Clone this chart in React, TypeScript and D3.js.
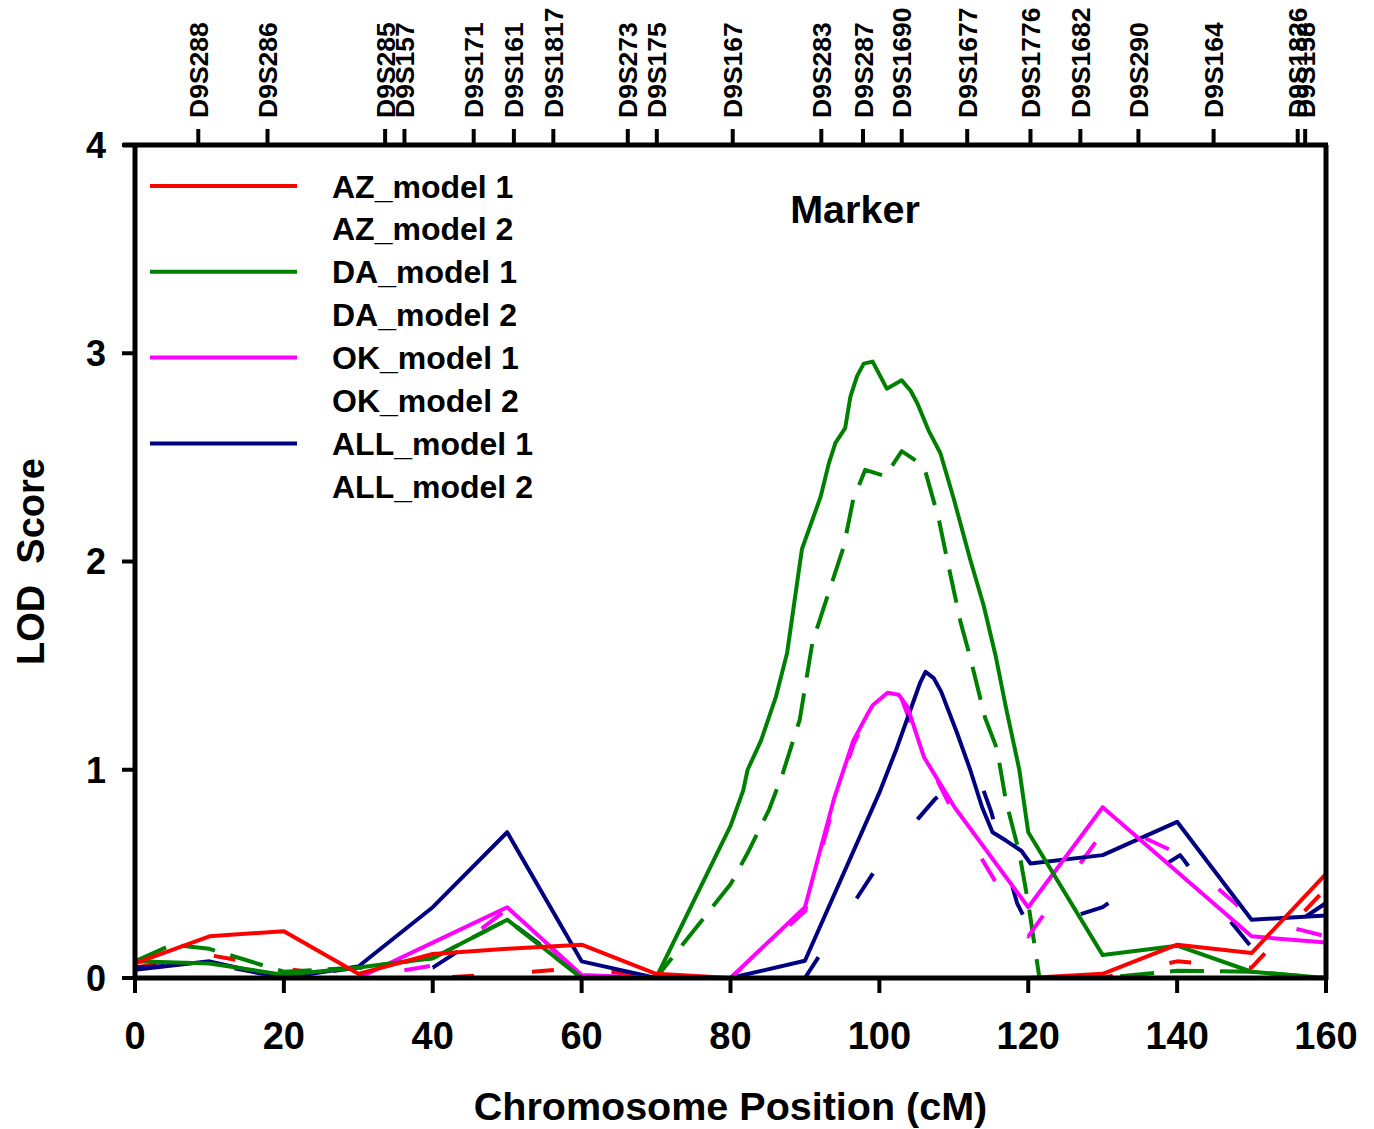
import React from "react";
import * as d3 from "d3";

const xTicks = [0, 20, 40, 60, 80, 100, 120, 140, 160];
const yTicks = [0, 1, 2, 3, 4];

const markerNames = ["D9S288","D9S286","D9S285","D9S157","D9S171","D9S161","D9S1817","D9S273","D9S175","D9S167","D9S283","D9S287","D9S1690","D9S1677","D9S1776","D9S1682","D9S290","D9S164","D9S1826","D9S158"];
const markerPos = [8.5, 17.8, 33.6, 36.2, 45.5, 50.9, 56.2, 66.2, 70.1, 80.3, 92.2, 97.8, 103.0, 111.8, 120.3, 127.0, 134.8, 144.9, 156.2, 157.2];

const AZ_model1: [number, number][] = [[0,0.07],[10,0.2],[20,0.225],[30,0.02],[40,0.115],[50,0.14],[60,0.16],[70,0.02],[80,0],[90,0],[100,0],[110,0],[120,0],[130,0.02],[140,0.16],[150,0.12],[160,0.5]];
const AZ_model2: [number, number][] = [[0,0.05],[10,0.11],[20,0.045],[30,0],[40,0],[50,0.02],[60,0.05],[70,0],[80,0],[90,0],[100,0],[110,0],[120,0],[130,0],[140,0.08],[150,0.05],[160,0.43]];
const DA_model1: [number, number][] = [[0,0.08],[10,0.07],[20,0.015],[30,0.05],[40,0.095],[50,0.28],[60,0],[70,0],[80,0.73],[81.7,0.9],[82.3,1.0],[84.1,1.14],[86.1,1.35],[87.6,1.56],[89.6,2.06],[92.1,2.31],[93.2,2.47],[94.1,2.57],[95.4,2.64],[96.1,2.79],[97.0,2.89],[97.9,2.95],[99.1,2.96],[101.0,2.83],[103.0,2.87],[104.2,2.82],[105.1,2.76],[106.6,2.63],[108.2,2.52],[110.0,2.30],[112.2,2.01],[114.0,1.79],[115.6,1.55],[117.0,1.30],[118.8,1.0],[120,0.70],[130,0.11],[140,0.155],[150,0.03],[160,0]];
const DA_model2: [number, number][] = [[0,0.08],[5,0.16],[10,0.14],[20,0.03],[30,0.05],[40,0.095],[50,0.28],[60,0],[70,0],[80,0.45],[82.3,0.6],[85.2,0.81],[87,0.98],[89.3,1.24],[91,1.61],[93,1.83],[95.2,2.07],[96.5,2.3],[97.2,2.36],[98.1,2.44],[100.8,2.41],[103,2.53],[105.5,2.47],[106.2,2.43],[108,2.2],[109.1,2.01],[110.9,1.71],[112.2,1.54],[114.2,1.25],[115.8,1.1],[117,0.85],[118.8,0.6],[120,0.36],[121.5,0],[130,0],[140,0.035],[150,0.03],[160,0]];
const OK_model1: [number, number][] = [[0,0],[10,0],[20,0],[30,0],[40,0.17],[50,0.34],[60,0.015],[70,0],[80,0],[90,0.34],[93.9,0.86],[96.5,1.14],[98.3,1.26],[99.1,1.31],[101.1,1.37],[102.6,1.36],[103.8,1.30],[104.9,1.18],[106.0,1.06],[107.2,0.99],[110.1,0.82],[120,0.34],[130,0.82],[140,0.51],[150,0.2],[160,0.17]];
const OK_model2: [number, number][] = [[0,0],[10,0],[20,0],[30,0],[40,0.06],[50,0.33],[60,0.01],[70,0],[80,0],[90,0.32],[94,0.85],[96.5,1.12],[98.5,1.27],[101,1.36],[103,1.34],[105,1.15],[107.5,0.97],[109.6,0.82],[120,0.2],[131,0.75],[140,0.6],[150,0.29],[160,0.2]];
const ALL_model1: [number, number][] = [[0,0.04],[10,0.08],[20,0],[30,0.055],[40,0.34],[50,0.70],[60,0.08],[70,0],[80,0],[90,0.083],[100,0.89],[102.3,1.1],[104.3,1.30],[105.5,1.42],[106.2,1.47],[107.3,1.44],[108.3,1.375],[110.4,1.18],[112.2,1.0],[113.8,0.82],[115.2,0.70],[117.0,0.66],[119.1,0.61],[120.3,0.55],[130,0.59],[140,0.75],[150,0.28],[160,0.30]];
const ALL_model2: [number, number][] = [[0,0.05],[10,0.07],[20,0],[30,0.05],[40,0.05],[50,0.28],[60,0.01],[70,0],[80,0],[90,0],[100,0.55],[107.5,0.86],[110.5,0.95],[113,1.0],[115,0.8],[118.5,0.36],[120.3,0.23],[130,0.34],[136,0.49],[140.4,0.59],[147,0.28],[150.4,0.13],[160,0.36]];

const legendNames = ["AZ_model 1","AZ_model 2","DA_model 1","DA_model 2","OK_model 1","OK_model 2","ALL_model 1","ALL_model 2"];
const legendColors = ["#ff0000", null, "#008000", null, "#ff00ff", null, "#000080", null];

const seriesData = [
  { data: AZ_model2, color: "#ff0000", dash: "22,58" },
  { data: DA_model2, color: "#008000", dash: "34,16" },
  { data: OK_model2, color: "#ff00ff", dash: "26,64" },
  { data: ALL_model2, color: "#000080", dash: "30,70" },
  { data: ALL_model1, color: "#000080", dash: null },
  { data: OK_model1, color: "#ff00ff", dash: null },
  { data: DA_model1, color: "#008000", dash: null },
  { data: AZ_model1, color: "#ff0000", dash: null },
];

const FONT = "'Liberation Sans', Arial, Helvetica, sans-serif";

export default function App() {
  const W = 1374, H = 1129;
  const x = d3.scaleLinear().domain([0, 160]).range([135, 1326]);
  const y = d3.scaleLinear().domain([0, 4]).range([978, 145]);
  const line = d3.line<[number, number]>().x(d => x(d[0])).y(d => y(d[1]));

  return (
    <svg width={W} height={H} style={{ position: "absolute", left: 0, top: 0, background: "#fff" }} fontFamily={FONT}>
      <rect x={0} y={0} width={W} height={H} fill="#fff" />
      <g fill="none" strokeLinejoin="round">
        {seriesData.map((s, i) => (
          <path key={i} d={line(s.data) || ""} stroke={s.color} strokeWidth={4}
            strokeDasharray={s.dash || undefined} />
        ))}
      </g>
      <g stroke="#000" strokeWidth={5} fill="none">
        <line x1={x(0)} y1={y(4)} x2={x(0)} y2={y(0) + 2} />
        <line x1={x(0) - 12} y1={y(4)} x2={x(160) + 2} y2={y(4)} />
        <line x1={x(160)} y1={y(4)} x2={x(160)} y2={y(0) + 2} />
        <line x1={x(0)} y1={y(0)} x2={x(160)} y2={y(0)} />
      </g>
      {yTicks.map(t => (
        <g key={"y" + t}>
          <line x1={x(0) - 13} x2={x(0)} y1={y(t)} y2={y(t)} stroke="#000" strokeWidth={4} />
          <text x={106} y={y(t)} dy="0.36em" textAnchor="end" fontSize={36} fontWeight="bold">{t}</text>
        </g>
      ))}
      {xTicks.map(t => (
        <g key={"x" + t}>
          <line x1={x(t)} x2={x(t)} y1={y(0)} y2={y(0) + 15} stroke="#000" strokeWidth={4} />
          <text x={x(t)} y={1049} textAnchor="middle" fontSize={38} fontWeight="bold">{t}</text>
        </g>
      ))}
      {markerNames.map((m, i) => (
        <g key={m}>
          <line x1={x(markerPos[i])} x2={x(markerPos[i])} y1={y(4)} y2={y(4) - 16} stroke="#000" strokeWidth={4} />
          <text transform={`translate(${x(markerPos[i])},118) rotate(-90)`} dy="0.36em" textAnchor="start"
            fontSize={26.5} fontWeight="bold">{m}</text>
        </g>
      ))}
      <text x={(x(0) + x(160)) / 2} y={1120} textAnchor="middle" fontSize={39.5} fontWeight="bold">Chromosome Position (cM)</text>
      <text transform={`translate(44,${(y(0) + y(4)) / 2}) rotate(-90)`} textAnchor="middle" fontSize={38} fontWeight="bold" style={{ whiteSpace: "pre" }}>{"LOD  Score"}</text>
      <text x={855} y={223} textAnchor="middle" fontSize={39.5} fontWeight="bold">Marker</text>
      {legendNames.map((n, i) => {
        const ly = 186 + i * 42.9;
        const c = legendColors[i];
        return (
          <g key={n}>
            {c && <line x1={150} x2={297} y1={ly} y2={ly} stroke={c} strokeWidth={4} />}
            <text x={332} y={ly} dy="0.36em" fontSize={32} fontWeight="bold">{n}</text>
          </g>
        );
      })}
    </svg>
  );
}
